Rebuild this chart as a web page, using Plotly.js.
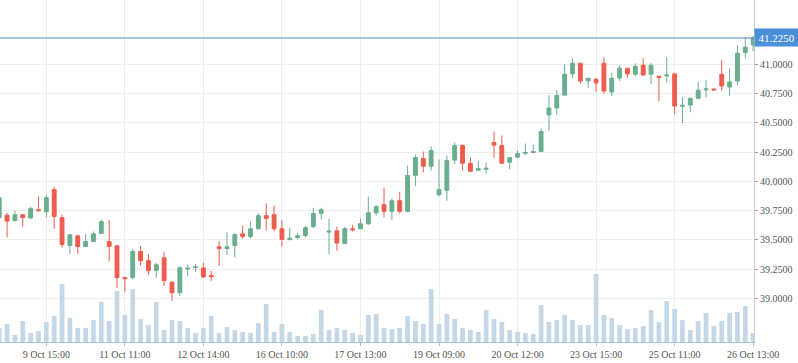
<!DOCTYPE html>
<html>
<head>
<meta charset="utf-8">
<script src="https://cdn.plot.ly/plotly-3.0.1.min.js"></script>
<style>html,body{margin:0;padding:0;background:#fff;}#chart{width:798px;height:363px;}</style>
</head>
<body>
<div id="chart"></div>
<script>
// Candle index 0..96 (one bar per period)
var openP = [39.69,39.71,39.665,39.714,39.686,39.757,39.74,39.929,39.689,39.451,
 39.534,39.443,39.485,39.554,39.485,39.449,39.177,39.177,39.40,39.322,
 39.237,39.346,39.137,39.048,39.251,39.262,39.26,39.194,39.44,39.425,
 39.451,39.551,39.528,39.594,39.706,39.714,39.594,39.503,39.52,39.537,
 39.614,39.726,39.566,39.577,39.468,39.594,39.594,39.637,39.731,39.80,
 39.743,39.834,39.743,40.051,40.195,40.129,39.886,39.923,40.181,40.306,
 40.152,40.094,40.103,40.332,40.306,40.163,40.206,40.24,40.246,40.255,
 40.568,40.626,40.737,40.918,41.009,40.858,40.872,41.009,40.764,40.883,
 40.966,40.915,40.992,40.915,40.898,40.901,40.918,40.641,40.652,40.709,
 40.781,40.789,40.915,40.806,40.858,41.101,41.164];
var highP = [39.88,39.73,39.749,39.716,39.783,39.869,39.886,39.955,39.714,39.545,
 39.543,39.551,39.571,39.671,39.671,39.449,39.18,39.423,39.449,39.38,
 39.303,39.394,39.148,39.271,39.286,39.291,39.303,39.234,39.491,39.563,
 39.557,39.62,39.654,39.726,39.811,39.794,39.671,39.603,39.56,39.62,
 39.774,39.774,39.68,39.611,39.611,39.629,39.68,39.869,39.80,39.946,
 39.851,39.911,40.135,40.229,40.255,40.298,40.186,40.22,40.332,40.315,
 40.203,40.178,40.16,40.426,40.392,40.203,40.263,40.323,40.315,40.452,
 40.735,40.778,41.0,41.052,41.009,40.881,40.881,41.06,40.928,40.992,
 40.966,41.009,41.052,41.009,40.898,41.06,40.926,40.718,40.718,40.849,
 40.866,40.789,41.035,40.966,41.164,41.232,41.245];
var lowP = [39.66,39.52,39.657,39.61,39.68,39.743,39.69,39.594,39.434,39.38,
 39.38,39.443,39.485,39.554,39.314,39.091,39.057,39.163,39.28,39.20,
 39.177,39.105,38.977,39.02,39.19,39.226,39.174,39.148,39.277,39.371,
 39.348,39.509,39.511,39.594,39.58,39.571,39.443,39.494,39.503,39.52,
 39.597,39.674,39.374,39.406,39.463,39.571,39.594,39.629,39.706,39.69,
 39.67,39.726,39.734,39.957,40.078,40.092,39.869,39.834,40.146,40.092,
 40.078,40.086,40.069,40.197,40.154,40.103,40.206,40.223,40.24,40.255,
 40.43,40.566,40.737,40.883,40.832,40.798,40.764,40.746,40.729,40.858,
 40.883,40.898,40.901,40.832,40.686,40.841,40.575,40.498,40.592,40.701,
 40.718,40.781,40.775,40.732,40.824,41.052,41.112];
var closeP = [39.86,39.66,39.714,39.69,39.766,39.749,39.86,39.70,39.46,39.543,
 39.443,39.485,39.551,39.654,39.443,39.177,39.168,39.40,39.322,39.237,
 39.286,39.151,39.048,39.262,39.257,39.268,39.183,39.185,39.425,39.44,
 39.545,39.528,39.594,39.706,39.683,39.594,39.503,39.514,39.534,39.603,
 39.726,39.757,39.574,39.472,39.594,39.586,39.637,39.731,39.783,39.743,
 39.834,39.743,40.049,40.203,40.129,40.263,39.929,40.178,40.306,40.154,
 40.086,40.109,40.111,40.309,40.154,40.203,40.237,40.246,40.255,40.426,
 40.626,40.735,40.915,41.009,40.858,40.881,40.841,40.772,40.881,40.966,
 40.918,40.983,40.909,40.992,40.889,40.909,40.644,40.649,40.709,40.778,
 40.789,40.781,40.815,40.849,41.095,41.146,41.225];
var volume = [14,18,7,21,9,11,20,26,58,24,14,14,22,40,21,51,27,53,23,17,
 40,12,22,21,14,9,14,26,9,15,12,10,9,19,38,10,18,10,6,6,
 8,32,12,14,12,9,7,27,28,14,13,
 14,26,21,18,53,18,28,23,14,12,10,32,23,20,12,10,9,8,37,20,
 22,27,22,17,17,68,27,24,17,13,14,16,32,20,41,33,22,12,21,29,
 16,21,29,30,36,9];
var tickIdx = [6,16,26,36,46,56,66,76,86,96];
var tickLabels = ['9 Oct 15:00','11 Oct 11:00','12 Oct 14:00','16 Oct 10:00','17 Oct 13:00',
 '19 Oct 09:00','20 Oct 12:00','23 Oct 15:00','25 Oct 11:00','26 Oct 13:00'];
var priceTicks = [39.0,39.25,39.5,39.75,40.0,40.25,40.5,40.75,41.0];
var lastPrice = 41.225;

var idx = closeP.map(function(_, i){ return i; });
var FONT = 'Liberation Serif, Times New Roman, serif';

var volTrace = {
  type:'bar', x: idx, y: volume, yaxis:'y2', width:0.6,
  marker:{color:'#c5d6e7', line:{width:0}}, hoverinfo:'skip'
};
var candle = {
  type:'candlestick', x: idx, open: openP, high: highP, low: lowP, close: closeP,
  increasing:{line:{color:'#6aae8d', width:1}, fillcolor:'#6aae8d'},
  decreasing:{line:{color:'#ee5c4c', width:1}, fillcolor:'#ee5c4c'},
  whiskerwidth:0, hoverinfo:'skip'
};

var layout = {
  width:798, height:363,
  margin:{l:0, r:44, t:0, b:21, pad:0},
  paper_bgcolor:'#ffffff', plot_bgcolor:'#ffffff',
  showlegend:false,
  boxgap:0.3, boxgroupgap:0.3,
  font:{family:FONT, size:10, color:'#555555'},
  xaxis:{
    type:'linear', range:[0.10, 96.11], rangeslider:{visible:false},
    tickmode:'array', tickvals: tickIdx, ticktext: tickLabels,
    showgrid:true, gridcolor:'#eeeeee', gridwidth:1,
    zeroline:false, showline:true, linecolor:'#aebccb', linewidth:1,
    ticks:'outside', ticklen:3, tickcolor:'#aebccb',
    tickfont:{family:FONT, size:10, color:'#555555'}
  },
  yaxis:{
    side:'right', range:[38.6265, 41.5496],
    tickmode:'array', tickvals: priceTicks, tickformat:'.4f',
    showgrid:true, gridcolor:'#eeeeee', gridwidth:1,
    zeroline:false, showline:true, linecolor:'#cccccc', linewidth:1,
    ticks:'outside', ticklen:3, tickcolor:'#999999',
    tickfont:{family:FONT, size:10, color:'#555555'}
  },
  yaxis2:{
    overlaying:'y', side:'left', range:[0, 342], visible:false,
    showgrid:false, zeroline:false
  },
  shapes:[{
    type:'line', xref:'paper', yref:'y', x0:0, x1:1, y0:lastPrice, y1:lastPrice,
    line:{color:'#5287c6', width:1}
  }],
  annotations:[{
    xref:'paper', yref:'y', x:1, y:lastPrice, xanchor:'left', yanchor:'middle',
    text: lastPrice.toFixed(4), showarrow:false,
    bgcolor:'#4a8fd9', borderpad:2, width:39, height:13,
    font:{family:FONT, size:11, color:'#ffffff'}
  }]
};

Plotly.newPlot('chart', [volTrace, candle], layout, {staticPlot:true, displayModeBar:false});
</script>
</body>
</html>
